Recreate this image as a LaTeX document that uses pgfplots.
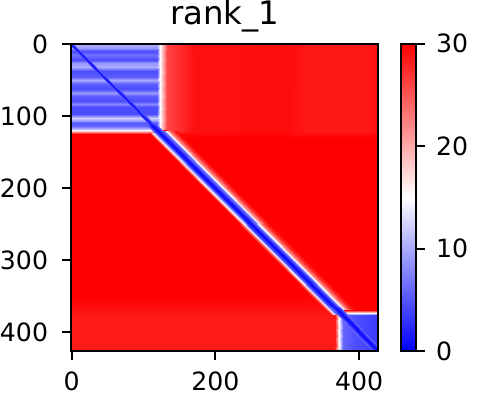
\documentclass[border=0pt]{standalone}
\usepackage{fontspec}
\setmainfont{DejaVu Sans}
\usepackage{pgfplots}
\pgfplotsset{compat=1.18}
\newcommand{\lblfont}{\fontsize{12.6}{15}\selectfont}
\begin{document}
\begin{tikzpicture}
\begin{axis}[
  scale only axis, width=153.75pt, height=154pt,
  xmin=-0.5, xmax=426.5, ymin=-0.5, ymax=426.5,
  y dir=reverse,
  xtick={0,200,400}, ytick={0,100,200,300,400},
  tick align=outside, tick pos=left, major tick length=4.5pt,
  axis line style={line width=1pt},
  every tick/.style={line width=1pt, black},
  tick label style={font=\lblfont},
  xticklabel style={inner sep=0pt, yshift=-5.9pt},
  yticklabel style={inner sep=0pt, xshift=-6.9pt},
  /pgf/number format/assume math mode=true,
  title={rank\_1},
  title style={font=\fontsize{16.2}{19}\selectfont, inner sep=0pt, at={(0.5,1)}, anchor=base, yshift=3.5pt},
  colormap={bwr}{rgb255=(0,0,255) rgb255=(255,255,255) rgb255=(255,0,0)},
  point meta min=0, point meta max=30,
  colorbar,
  colorbar style={
    at={(parent axis.north east)}, anchor=north west, xshift=3pt,
    width=7.5pt, scale only axis,
    ytick={0,10,20,30},
    tick align=outside, major tick length=4.5pt,
    ytick pos=right, yticklabel pos=right,
    axis line style={line width=1pt},
    every tick/.style={line width=1pt, black},
    tick label style={font=\lblfont},
    yticklabel style={inner sep=0pt, xshift=5.25pt},
    /pgf/number format/assume math mode=true,
  },
  axis on top,
]
% background
\addplot[patch, patch type=rectangle, shader=interp, point meta=explicit] table[meta=c] {
x y c
-0.5 -0.5 30
426.5 -0.5 30
426.5 426.5 30
-0.5 426.5 30
};
% upper right region (rows 0-120) slightly lighter
\addplot[patch, patch type=rectangle, shader=interp, point meta=explicit] table[meta=c] {
x y c
133 -0.5 26
170 -0.5 29
170 121 29
133 121 26
170 -0.5 29
300 -0.5 29.3
300 121 29.3
170 121 29
300 -0.5 29.3
330 -0.5 28.6
330 121 28.6
300 121 29.3
330 -0.5 28.6
410 -0.5 28.6
410 121 28.6
330 121 28.6
410 -0.5 28.6
426.5 -0.5 29
426.5 121 29
410 121 28.6
133 121 26
170 121 29
170 130 30
133 130 30
170 121 29
300 121 29.3
300 130 30
170 130 30
300 121 29.3
330 121 28.6
330 130 30
300 130 30
330 121 28.6
410 121 28.6
410 130 30
330 130 30
410 121 28.6
426.5 121 29
426.5 130 30
410 130 30
};
% bottom strip
\addplot[patch, patch type=rectangle, shader=interp, point meta=explicit] table[meta=c] {
x y c
-0.5 350 30
368 350 30
368 378 28.5
-0.5 378 28.5
-0.5 378 28.5
368 378 28.5
368 426.5 28.5
-0.5 426.5 28.5
};
% top-left block with stripes
\addplot[patch, patch type=rectangle, shader=interp, point meta=explicit] table[meta=c] {
x y c
-0.5 -0.5 7
119.5 -0.5 7
119.5 2 10
-0.5 2 10
-0.5 2 10
119.5 2 10
119.5 6 9
-0.5 6 9
-0.5 6 9
119.5 6 9
119.5 10 4.5
-0.5 10 4.5
-0.5 10 4.5
119.5 10 4.5
119.5 16 6.5
-0.5 16 6.5
-0.5 16 6.5
119.5 16 6.5
119.5 22 4.5
-0.5 22 4.5
-0.5 22 4.5
119.5 22 4.5
119.5 27 9
-0.5 27 9
-0.5 27 9
119.5 27 9
119.5 32 10
-0.5 32 10
-0.5 32 10
119.5 32 10
119.5 37 4.5
-0.5 37 4.5
-0.5 37 4.5
119.5 37 4.5
119.5 46 5.5
-0.5 46 5.5
-0.5 46 5.5
119.5 46 5.5
119.5 50 10
-0.5 50 10
-0.5 50 10
119.5 50 10
119.5 55 5.5
-0.5 55 5.5
-0.5 55 5.5
119.5 55 5.5
119.5 62 4.5
-0.5 62 4.5
-0.5 62 4.5
119.5 62 4.5
119.5 68 9
-0.5 68 9
-0.5 68 9
119.5 68 9
119.5 72 5.5
-0.5 72 5.5
-0.5 72 5.5
119.5 72 5.5
119.5 79 4.5
-0.5 79 4.5
-0.5 79 4.5
119.5 79 4.5
119.5 83 8
-0.5 83 8
-0.5 83 8
119.5 83 8
119.5 87 4.5
-0.5 87 4.5
-0.5 87 4.5
119.5 87 4.5
119.5 98 4.5
-0.5 98 4.5
-0.5 98 4.5
119.5 98 4.5
119.5 103 12
-0.5 103 12
-0.5 103 12
119.5 103 12
119.5 106 10
-0.5 106 10
-0.5 106 10
119.5 106 10
119.5 110 5
-0.5 110 5
-0.5 110 5
119.5 110 5
119.5 114 6
-0.5 114 6
-0.5 114 6
119.5 114 6
119.5 118 11
-0.5 118 11
};
% right edge of the block
\addplot[patch, patch type=rectangle, shader=interp, point meta=explicit] table[meta=c] {
x y c
119.5 -0.5 7
123 -0.5 15
123 2 15
119.5 2 10
119.5 2 10
123 2 15
123 6 15
119.5 6 9
119.5 6 9
123 6 15
123 10 15
119.5 10 4.5
119.5 10 4.5
123 10 15
123 16 15
119.5 16 6.5
119.5 16 6.5
123 16 15
123 22 15
119.5 22 4.5
119.5 22 4.5
123 22 15
123 27 15
119.5 27 9
119.5 27 9
123 27 15
123 32 15
119.5 32 10
119.5 32 10
123 32 15
123 37 15
119.5 37 4.5
119.5 37 4.5
123 37 15
123 46 15
119.5 46 5.5
119.5 46 5.5
123 46 15
123 50 15
119.5 50 10
119.5 50 10
123 50 15
123 55 15
119.5 55 5.5
119.5 55 5.5
123 55 15
123 62 15
119.5 62 4.5
119.5 62 4.5
123 62 15
123 68 15
119.5 68 9
119.5 68 9
123 68 15
123 72 15
119.5 72 5.5
119.5 72 5.5
123 72 15
123 79 15
119.5 79 4.5
119.5 79 4.5
123 79 15
123 83 15
119.5 83 8
119.5 83 8
123 83 15
123 87 15
119.5 87 4.5
119.5 87 4.5
123 87 15
123 98 15
119.5 98 4.5
119.5 98 4.5
123 98 15
123 103 15
119.5 103 12
119.5 103 12
123 103 15
123 106 15
119.5 106 10
119.5 106 10
123 106 15
123 110 15
119.5 110 5
119.5 110 5
123 110 15
123 114 15
119.5 114 6
119.5 114 6
123 114 15
123 118 15
119.5 118 11
123 -0.5 15
133 -0.5 26
133 118 26
123 118 15
-0.5 118 11
123 118 11
123 121 18
-0.5 121 18
-0.5 121 18
123 121 18
123 125 30
-0.5 125 30
};
% diagonal line inside the top-left block
\addplot[patch, patch type=rectangle, shader=interp, point meta=explicit] table[meta=c] {
x y c
-3.5 -0.5 5
122 125 5
125 125 0.5
-0.5 -0.5 0.5
-0.5 -0.5 0.5
125 125 0.5
128 125 5
2.5 -0.5 5
};
% diagonal band: core
\addplot[patch, patch type=rectangle, shader=interp, point meta=explicit] table[meta=c] {
x y c
105 112 6
369 376 6
373 376 2
109 112 2
109 112 2
373 376 2
376 376 0.5
112 112 0.5
112 112 0.5
376 376 0.5
379 376 2
115 112 2
115 112 2
379 376 2
383 376 6
119 112 6
};
% diagonal band: lower-left fringe
\addplot[patch, patch type=rectangle, shader=interp, point meta=explicit] table[meta=c] {
x y c
108 124 30
360 376 30
363 376 24
111 124 24
111 124 24
363 376 24
366 376 14
114 124 14
114 124 14
366 376 14
369 376 6
117 124 6
};
% diagonal band: upper-right fringe
\addplot[patch, patch type=rectangle, shader=interp, point meta=explicit] table[meta=c] {
x y c
128 121 6
383 376 6
386 376 14
131 121 14
131 121 14
386 376 14
390 376 22
135 121 22
135 121 22
390 376 22
396 376 27
141 121 27
141 121 27
396 376 27
402 376 30
147 121 30
};
% bottom-right block
\addplot[patch, patch type=rectangle, shader=interp, point meta=explicit] table[meta=c] {
x y c
377 377 6
395 377 4.5
395 426.5 4.5
377 426.5 6
395 377 4.5
426.5 377 3.5
426.5 426.5 3.5
395 426.5 4.5
377 369 30
426.5 369 30
426.5 373.5 15
377 373.5 15
377 373.5 15
426.5 373.5 15
426.5 377 3.5
377 377 6
366 377 28.5
372 377 15
372 426.5 15
366 426.5 28.5
372 377 15
377 377 6
377 426.5 6
372 426.5 15
};
% diagonal band continuing into the bottom-right block
\addplot[patch, patch type=rectangle, shader=interp, point meta=explicit] table[meta=c] {
x y c
359 366 6
419.5 426.5 6
423.5 426.5 2
363 366 2
363 366 2
423.5 426.5 2
426.5 426.5 0.5
366 366 0.5
366 366 0.5
426.5 426.5 0.5
429.5 426.5 2
369 366 2
369 366 2
429.5 426.5 2
433.5 426.5 6
373 366 6
};
\end{axis}
\path ([xshift=-35.5pt,yshift=-22pt]current axis.south west) rectangle ([xshift=53pt,yshift=21pt]current axis.north east);
\end{tikzpicture}
\end{document}
